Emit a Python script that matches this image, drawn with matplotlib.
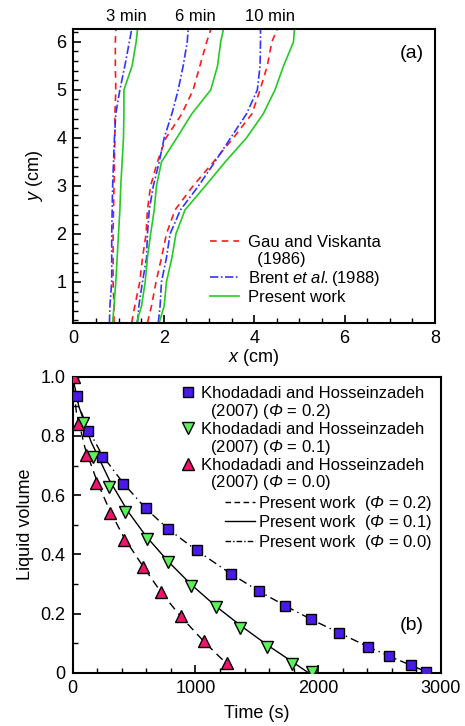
import matplotlib
matplotlib.use("Agg")
import matplotlib.pyplot as plt
from matplotlib.lines import Line2D
from matplotlib.ticker import MultipleLocator, FuncFormatter

plt.rcParams['font.family'] = ['Liberation Sans', 'DejaVu Sans']
plt.rcParams['mathtext.fontset'] = 'custom'
plt.rcParams['mathtext.rm'] = 'Liberation Sans'
plt.rcParams['mathtext.it'] = 'Liberation Sans:italic'
plt.rcParams['mathtext.sf'] = 'Liberation Sans:italic'
plt.rcParams['mathtext.bf'] = 'Liberation Sans:bold'

# ---------------- panel (a) data ----------------
y_grid = [0.15, 0.5, 1.0, 1.5, 2.0, 2.5, 3.0, 3.5, 4.0, 4.5, 5.0, 5.5, 6.0, 6.26]
gau_3 = [0.90, 0.90, 0.88, 0.88, 0.88, 0.89, 0.90, 0.91, 0.92, 0.92, 0.94, 0.93, 0.93, 0.94]
brent_3 = [0.80, 0.81, 0.85, 0.85, 0.85, 0.86, 0.87, 0.89, 0.91, 0.94, 1.03, 1.14, 1.24, 1.29]
present_3 = [0.87, 0.90, 0.94, 0.97, 1.00, 1.03, 1.05, 1.08, 1.11, 1.12, 1.12, 1.30, 1.39, 1.42]
gau_6 = [1.29, 1.36, 1.47, 1.53, 1.61, 1.64, 1.71, 1.86, 2.05, 2.40, 2.65, 2.80, 2.95, 3.04]
brent_6 = [1.42, 1.45, 1.53, 1.62, 1.64, 1.68, 1.77, 1.90, 2.01, 2.18, 2.32, 2.43, 2.52, 2.54]
present_6 = [1.40, 1.51, 1.59, 1.64, 1.71, 1.79, 1.84, 1.95, 2.29, 2.62, 3.04, 3.19, 3.26, 3.32]
gau_10 = [1.64, 1.73, 1.83, 1.95, 2.06, 2.25, 2.65, 3.10, 3.54, 3.95, 4.13, 4.29, 4.39, 4.51]
brent_10 = [1.88, 1.92, 1.95, 2.06, 2.14, 2.37, 2.77, 3.13, 3.48, 3.83, 4.07, 4.13, 4.14, 4.14]
present_10 = [1.90, 2.01, 2.06, 2.18, 2.27, 2.47, 2.92, 3.36, 3.83, 4.20, 4.46, 4.65, 4.87, 4.89]
time_labels = ["3 min", "6 min", "10 min"]
time_label_x = [1.17, 2.69, 4.35]

# ---------------- panel (b) data ----------------
t_sq = [0, 33, 128, 239, 413, 595, 779, 1010, 1290, 1515, 1732, 1944, 2169, 2405, 2579, 2756, 2875]
v_sq = [1.0, 0.936, 0.815, 0.730, 0.639, 0.555, 0.485, 0.413, 0.334, 0.276, 0.226, 0.180, 0.135, 0.088, 0.056, 0.025, 0.003]
t_dn = [0, 87, 168, 299, 426, 603, 779, 961, 1165, 1366, 1580, 1787, 1952]
v_dn = [1.0, 0.842, 0.730, 0.628, 0.543, 0.452, 0.373, 0.294, 0.221, 0.151, 0.086, 0.028, 0.003]
t_up = [11, 46, 109, 187, 304, 421, 576, 720, 883, 1072, 1257]
v_up = [1.0, 0.840, 0.735, 0.640, 0.541, 0.450, 0.356, 0.273, 0.191, 0.107, 0.032]

t_dash = [0, 30, 100, 200, 300, 420, 580, 720, 880, 1070, 1200, 1340]
v_dash = [1.0, 0.88, 0.76, 0.645, 0.55, 0.455, 0.355, 0.272, 0.19, 0.105, 0.052, 0.0]
t_solid = [0, 50, 150, 300, 450, 600, 780, 960, 1165, 1366, 1580, 1760, 1920]
v_solid = [1.0, 0.90, 0.78, 0.65, 0.545, 0.46, 0.375, 0.30, 0.225, 0.16, 0.095, 0.045, 0.0]
t_dd = [0, 50, 130, 240, 413, 595, 779, 1010, 1290, 1515, 1732, 1944, 2169, 2405, 2579, 2756, 2900]
v_dd = [1.0, 0.90, 0.82, 0.735, 0.64, 0.555, 0.485, 0.413, 0.334, 0.276, 0.226, 0.18, 0.135, 0.088, 0.056, 0.025, 0.0]

RED = '#ff1a1a'
BLUE = '#3333ff'
GREEN = '#22cc22'
SQ_C = '#4a1ae6'
DN_C = '#5cf25c'
UP_C = '#f0146e'

fig = plt.figure(figsize=(4.65, 7.26), dpi=100)
ax1 = fig.add_axes([0.1576, 0.5555, 0.778, 0.404])
ax2 = fig.add_axes([0.1563, 0.0734, 0.792, 0.4077])

FS_TICK = 13
FS_LAB = 13
FS_LEG = 12

lw = 1.2
red_dash = (0, (4, 3))
blue_dd = (0, (5, 1.5, 1, 1.5))
for g, b, p in [(gau_3, brent_3, present_3), (gau_6, brent_6, present_6), (gau_10, brent_10, present_10)]:
    ax1.plot(g, y_grid, color=RED, lw=lw, ls=red_dash)
    ax1.plot(b, y_grid, color=BLUE, lw=lw, ls=blue_dd)
    ax1.plot(p, y_grid, color=GREEN, lw=lw, ls='-')

ax1.set_xlim(0, 8)
ax1.set_ylim(0.15, 6.26)
ax1.xaxis.set_major_locator(MultipleLocator(2))
ax1.xaxis.set_minor_locator(MultipleLocator(0.5))
ax1.yaxis.set_major_locator(MultipleLocator(1))
ax1.yaxis.set_minor_locator(MultipleLocator(0.2))
ax1.set_xlabel(r'$x$ (cm)', fontsize=FS_LAB, labelpad=0)
ax1.set_ylabel(r'$y$ (cm)', fontsize=FS_LAB, labelpad=8)
for lbl, xx in zip(time_labels, time_label_x):
    ax1.annotate(lbl, xy=(xx, 1.0), xycoords=('data', 'axes fraction'),
                 xytext=(0, 4), textcoords='offset points', ha='center', va='bottom',
                 fontsize=12, annotation_clip=False)
ax1.text(0.936, 0.918, '(a)', transform=ax1.transAxes, ha='center', va='center', fontsize=14)

h_a = [Line2D([], [], color=RED, lw=lw, ls=red_dash),
       Line2D([], [], ls='none'),
       Line2D([], [], color=BLUE, lw=lw, ls=blue_dd),
       Line2D([], [], color=GREEN, lw=lw)]
l_a = ['Gau and Viskanta', '  (1986)', r'Brent $\mathit{et\ al.}$(1988)', 'Present work']
fig.legend(h_a, l_a, loc='upper left', bbox_to_anchor=(0.4516, 0.6765), frameon=False,
           fontsize=FS_LEG, handlelength=1.75, handletextpad=0.55, borderpad=0, borderaxespad=0,
           labelspacing=0.12)

# ---------------- panel (b) ----------------
ms = 7
ax2.plot(t_dash, v_dash, color='black', lw=1.0, ls=(0, (6, 4)), zorder=2)
ax2.plot(t_solid, v_solid, color='black', lw=1.0, ls='-', zorder=2)
ax2.plot(t_dd, v_dd, color='black', lw=1.0, ls=(0, (6, 3, 1, 3)), zorder=2)
ax2.plot(t_sq, v_sq, ls='none', marker='s', ms=ms, mfc=SQ_C, mec='black', mew=1.0, zorder=3)
ax2.plot(t_dn, v_dn, ls='none', marker='v', ms=ms + 1, mfc=DN_C, mec='black', mew=1.0, zorder=3)
ax2.plot(t_up, v_up, ls='none', marker='^', ms=ms + 1, mfc=UP_C, mec='black', mew=1.0, zorder=3)

ax2.set_xlim(0, 3000)
ax2.set_ylim(0, 1.0)
ax2.xaxis.set_major_locator(MultipleLocator(1000))
ax2.xaxis.set_minor_locator(MultipleLocator(200))
ax2.yaxis.set_major_locator(MultipleLocator(0.2))
ax2.yaxis.set_minor_locator(MultipleLocator(0.1))
ax2.yaxis.set_major_formatter(FuncFormatter(lambda v, p: '0' if abs(v) < 1e-9 else f'{v:.1f}'))
ax2.set_xlabel('Time (s)', fontsize=FS_LAB, labelpad=6)
ax2.set_ylabel('Liquid volume', fontsize=FS_LAB, labelpad=5)
ax2.text(0.92, 0.161, '(b)', transform=ax2.transAxes, ha='center', va='center', fontsize=14)

phi = r'$\mathsf{Φ}$'
h_b1 = [Line2D([], [], ls='none', marker='s', ms=ms, mfc=SQ_C, mec='black'),
        Line2D([], [], ls='none'),
        Line2D([], [], ls='none', marker='v', ms=ms + 1, mfc=DN_C, mec='black'),
        Line2D([], [], ls='none'),
        Line2D([], [], ls='none', marker='^', ms=ms + 1, mfc=UP_C, mec='black'),
        Line2D([], [], ls='none')]
l_b1 = ['Khodadadi and Hosseinzadeh', f'  (2007) ({phi} = 0.2)',
        'Khodadadi and Hosseinzadeh', f'  (2007) ({phi} = 0.1)',
        'Khodadadi and Hosseinzadeh', f'  (2007) ({phi} = 0.0)']
fig.legend(h_b1, l_b1, loc='upper left', bbox_to_anchor=(0.389, 0.468), frameon=False,
           fontsize=FS_LEG, handlelength=0.9, handletextpad=0.3, borderpad=0, borderaxespad=0,
           labelspacing=0.05)

h_b2 = [Line2D([], [], color='black', lw=1.0, ls=(0, (4, 2.5))),
        Line2D([], [], color='black', lw=1.0, ls='-'),
        Line2D([], [], color='black', lw=1.0, ls=(0, (4, 1.5, 1, 1.5)))]
l_b2 = [f'Present work  ({phi} = 0.2)', f'Present work  ({phi} = 0.1)', f'Present work  ({phi} = 0.0)']
fig.legend(h_b2, l_b2, loc='upper left', bbox_to_anchor=(0.4839, 0.3196), frameon=False,
           fontsize=FS_LEG, handlelength=1.8, handletextpad=0.2, borderpad=0, borderaxespad=0,
           labelspacing=0.02)

for ax in (ax1, ax2):
    ax.tick_params(axis='both', which='both', direction='in', top=False, right=False,
                   labelsize=FS_TICK, pad=5)
    ax.tick_params(which='major', length=6, width=1.2)
    ax.tick_params(which='minor', length=3.5, width=1.0)
    for s in ax.spines.values():
        s.set_linewidth(1.5)

fig.savefig('out.png', dpi=100)
